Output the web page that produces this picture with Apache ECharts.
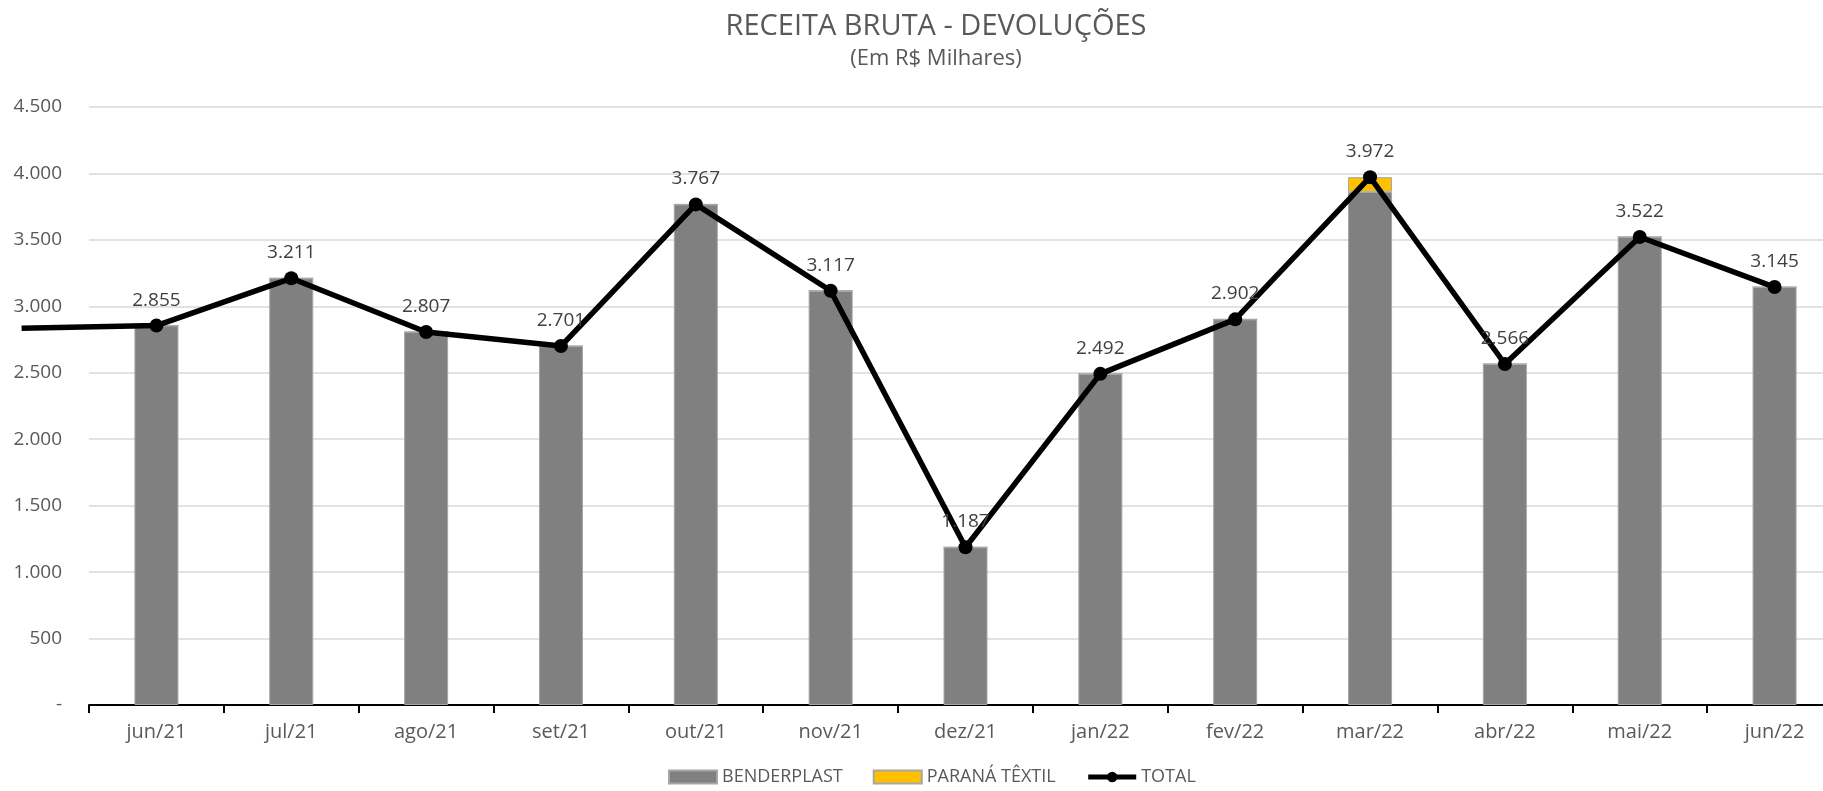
<!DOCTYPE html>
<html>
<head>
<meta charset="utf-8">
<script src="https://cdn.jsdelivr.net/npm/echarts@6/dist/echarts.min.js"></script>
<style>
  html, body { margin: 0; padding: 0; background: #fff; }
  #chart { width: 1823px; height: 791px; }
</style>
</head>
<body>
<div id="chart"></div>
<script>
// categorias (meses)
const months = ['jun/21', 'jul/21', 'ago/21', 'set/21', 'out/21', 'nov/21', 'dez/21',
    'jan/22', 'fev/22', 'mar/22', 'abr/22', 'mai/22', 'jun/22'];

const benderplast = [2855, 3211, 2807, 2701, 3767, 3117, 1187, 2492, 2902, 3862, 2566, 3522, 3145];
const paranaTextil = [0, 0, 0, 0, 0, 0, 0, 0, 0, 110, 0, 0, 0];
const total = [2855, 3211, 2807, 2701, 3767, 3117, 1187, 2492, 2902, 3972, 2566, 3522, 3145];

// mes anterior (linha sai pela esquerda do grafico)
const prevTotal = 2835;

const yTicks = [0, 500, 1000, 1500, 2000, 2500, 3000, 3500, 4000, 4500];

const fmt = v => (v === 0 ? '-' : v.toLocaleString('pt-BR'));

const font = '"Open Sans", "Noto Sans", sans-serif';

// area do grafico (a ultima coluna passa um pouco da borda direita)
const plotLeft = 89;
const plotWidth = 1753;
const band = plotWidth / months.length;

const lineData = [{
    value: [-1, prevTotal],
    symbol: 'none',
    label: {show: false},
}].concat(total.map((v, i) => [i, v]));

const chart = echarts.init(document.getElementById('chart'), null, {renderer: 'canvas'});

chart.setOption({
    animation: false,
    title: {
        text: 'RECEITA BRUTA - DEVOLUÇÕES',
        subtext: '(Em R$ Milhares)',
        left: 931,
        textAlign: 'center',
        top: 7,
        itemGap: 7,
        textStyle: {fontFamily: font, fontSize: 29, fontWeight: 'normal', color: '#595959'},
        subtextStyle: {fontFamily: font, fontSize: 22, color: '#595959'},
    },
    legend: {
        bottom: 0,
        left: 663,
        itemGap: 30,
        itemWidth: 48,
        itemHeight: 13,
        textStyle: {fontFamily: font, fontSize: 18, color: '#595959'},
        lineStyle: {width: 5},
        data: [
            {name: 'BENDERPLAST', icon: 'rect'},
            {name: 'PARANÁ TÊXTIL', icon: 'rect'},
            {name: 'TOTAL'},
        ],
    },
    grid: [
        {left: plotLeft, width: plotWidth, top: 107, bottom: 86, outerBoundsMode: 'none', containLabel: false},
        // grid da linha, começa na borda esquerda
        {left: 0, width: plotLeft + plotWidth, top: 107, bottom: 86, outerBoundsMode: 'none', containLabel: false},
    ],
    xAxis: [
        {
            type: 'category',
            gridIndex: 0,
            data: months,
            boundaryGap: true,
            axisLine: {lineStyle: {color: '#000', width: 2}},
            axisTick: {show: true, length: 8, lineStyle: {color: '#000', width: 2}},
            axisLabel: {fontFamily: font, fontSize: 20, color: '#595959', margin: 17},
            splitLine: {show: false},
        },
        {
            type: 'value',
            gridIndex: 1,
            min: -0.5 - plotLeft / band,
            max: months.length - 0.5,
            show: false,
        },
    ],
    yAxis: [
        {
            type: 'value',
            gridIndex: 0,
            min: yTicks[0],
            max: yTicks[yTicks.length - 1],
            interval: 500,
            axisLine: {show: false},
            axisTick: {show: false},
            axisLabel: {fontFamily: font, fontSize: 19, color: '#595959', margin: 27, formatter: fmt},
            splitLine: {lineStyle: {color: '#d9d9d9', width: 1.5}},
        },
        {
            type: 'value',
            gridIndex: 1,
            min: yTicks[0],
            max: yTicks[yTicks.length - 1],
            show: false,
        },
    ],
    series: [
        {
            name: 'BENDERPLAST',
            type: 'bar',
            stack: 'rb',
            barWidth: 44,
            data: benderplast,
            itemStyle: {color: '#808080', borderColor: '#a6a6a6', borderWidth: 1},
        },
        {
            name: 'PARANÁ TÊXTIL',
            type: 'bar',
            stack: 'rb',
            barWidth: 44,
            data: paranaTextil,
            itemStyle: {color: '#ffc000', borderColor: '#a6a6a6', borderWidth: 1},
        },
        {
            name: 'TOTAL',
            type: 'line',
            xAxisIndex: 1,
            yAxisIndex: 1,
            clip: false,
            data: lineData,
            symbol: 'circle',
            symbolSize: 14,
            itemStyle: {color: '#000'},
            lineStyle: {color: '#000', width: 5.5},
            label: {
                show: true,
                position: 'top',
                distance: 9,
                fontFamily: font,
                fontSize: 19,
                color: '#404040',
                formatter: p => fmt(p.value[1]),
            },
            z: 5,
        },
    ],
});
</script>
</body>
</html>
